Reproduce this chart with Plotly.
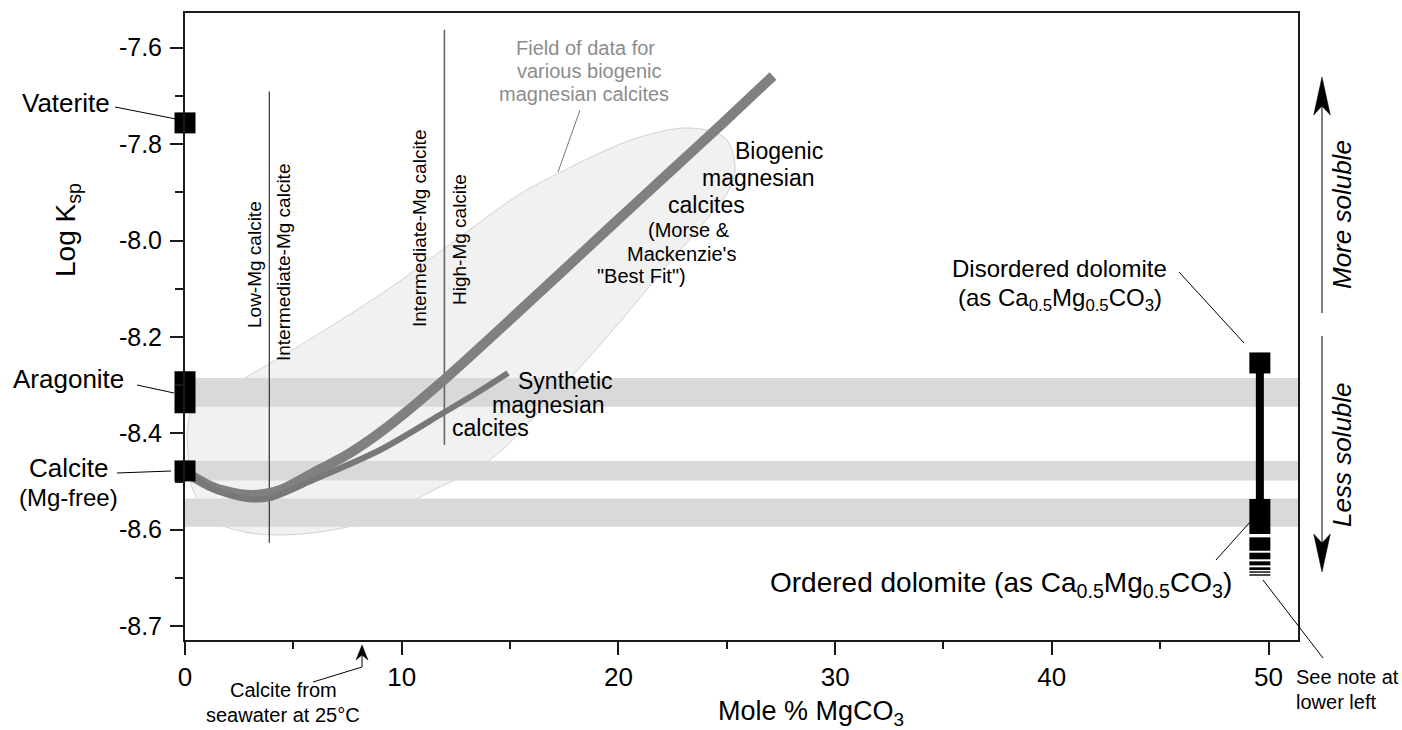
import plotly.graph_objects as go

# ---------------- data ----------------
x_tick_vals = [0, 10, 20, 30, 40, 50]
x_tick_text = ["0", "10", "20", "30", "40", "50"]
x_minor_vals = [5, 15, 25, 35, 45]
y_tick_vals = [-7.6, -7.8, -8.0, -8.2, -8.4, -8.6, -8.8]
y_tick_text = ["-7.6", "-7.8", "-8.0", "-8.2", "-8.4", "-8.6", "-8.7"]
y_minor_vals = [-7.7, -7.9, -8.1, -8.3, -8.5, -8.7]
X_RANGE = [0, 51.36]
Y_RANGE = [-8.8288, -7.528]

# end-member minerals (mole % MgCO3, log Ksp)
vaterite = (0, -7.756)
aragonite = (0, -8.315)
calcite = (0, -8.478)

# grey horizontal bands (log Ksp top, bottom)
band_aragonite = (-8.285, -8.345)
band_calcite = (-8.4575, -8.498)
band_dolomite = (-8.535, -8.594)

# biogenic magnesian calcites (Morse & Mackenzie best fit)
bio_x = [0, 1.384, 3.0, 4.384, 5.907, 7.615, 9.276, 11.998, 16.382, 19.566, 22.52, 24.827, 27.134]
bio_y = [-8.480, -8.5135, -8.528, -8.5175, -8.4822, -8.4407, -8.389, -8.2874, -8.1069, -7.9741,
         -7.8517, -7.7562, -7.6587]

# synthetic magnesian calcites
syn_x = [0, 1.384, 2.861, 3.922, 5.907, 9.0, 11.907, 13.383, 14.906]
syn_y = [-8.480, -8.5176, -8.5363, -8.5342, -8.4968, -8.4346, -8.3579, -8.3185, -8.2749]

# field of data for biogenic magnesian calcites (outline)
field_x = [0.461, 3.0, 6.23, 9.322, 12.0, 15.459, 17.167, 19.151, 20.997, 23.304, 24.919, 25.381,
           25.15, 24.135, 22.381, 19.751, 16.844, 14.076, 11.307, 9.0, 6.23, 4.384, 2.769, 1.292,
           0.369, 0.138, 0.138, 0.461]
field_y = [-8.3413, -8.2791, -8.1919, -8.1027, -8.0156, -7.9035, -7.862, -7.8184, -7.7853, -7.7666,
           -7.7873, -7.8434, -7.8911, -7.9534, -8.0444, -8.1855, -8.3307, -8.4552, -8.5216, -8.5755,
           -8.6046, -8.6108, -8.6048, -8.5799, -8.5176, -8.445, -8.3828, -8.3413]

# class boundaries (mole % MgCO3, top, bottom of drawn line)
boundary_low = (3.89, -7.691, -8.627)
boundary_high = (11.97, -7.563, -8.424)

# dolomites
dolomite_x = 49.6
disordered_dolomite = -8.254
ordered_dolomite = -8.5363
ordered_blocks = [(-8.5363, -8.6089), (-8.6158, -8.6436), (-8.6477, -8.6614), (-8.6656, -8.6739),
                  (-8.6780, -8.6836), (-8.6863, -8.6892), (-8.6925, -8.6954)]

# ---------------- figure ----------------
FONT = "Liberation Sans, Arial, Helvetica, sans-serif"
W, H = 1402, 730
L, R, T, B = 185, 1298, 13, 640  # plot area in pixels


def px(xp):
    return (xp - L) / (R - L)


def py(yp):
    return (B - yp) / (B - T)


fig = go.Figure()

# field of data
fig.add_trace(go.Scatter(x=field_x, y=field_y, mode="lines", fill="toself",
                         fillcolor="#f1f1f1", line=dict(color="#d2d2d2", width=1, shape="spline", smoothing=1),
                         hoverinfo="skip"))

# bands
for top, bot in [band_aragonite, band_calcite, band_dolomite]:
    fig.add_trace(go.Scatter(x=[X_RANGE[0], X_RANGE[1], X_RANGE[1], X_RANGE[0], X_RANGE[0]],
                             y=[top, top, bot, bot, top], mode="lines", fill="toself",
                             fillcolor="#d9d9d9", line=dict(width=0, color="rgba(0,0,0,0)"),
                             hoverinfo="skip"))

# class boundaries
fig.add_trace(go.Scatter(x=[boundary_low[0]] * 2, y=[boundary_low[1], boundary_low[2]], mode="lines",
                         line=dict(color="#333333", width=1.2), hoverinfo="skip"))
fig.add_trace(go.Scatter(x=[boundary_high[0]] * 2, y=[boundary_high[1], boundary_high[2]], mode="lines",
                         line=dict(color="#666666", width=1.6), hoverinfo="skip"))

# curves
fig.add_trace(go.Scatter(x=bio_x, y=bio_y, mode="lines",
                         line=dict(color="#808080", width=10, shape="spline", smoothing=0.8), hoverinfo="skip"))
fig.add_trace(go.Scatter(x=syn_x, y=syn_y, mode="lines",
                         line=dict(color="#787878", width=6, shape="spline", smoothing=0.8), hoverinfo="skip"))

# dolomite bar and ordered blocks
fig.add_trace(go.Scatter(x=[dolomite_x, dolomite_x], y=[disordered_dolomite, ordered_dolomite], mode="lines",
                         line=dict(color="black", width=8), hoverinfo="skip"))
bx, by = [], []
for top, bot in ordered_blocks:
    bx += [dolomite_x, dolomite_x, None]
    by += [top, bot, None]
fig.add_trace(go.Scatter(x=bx, y=by, mode="lines", line=dict(color="black", width=21), hoverinfo="skip"))

# square markers
fig.add_trace(go.Scatter(x=[vaterite[0], calcite[0], dolomite_x], y=[vaterite[1], calcite[1], disordered_dolomite],
                         mode="markers", cliponaxis=False,
                         marker=dict(symbol="square", size=21, color="black", line=dict(width=0)),
                         hoverinfo="skip"))
fig.add_trace(go.Scatter(x=[aragonite[0]], y=[aragonite[1]], mode="markers", cliponaxis=False,
                         marker=dict(symbol="line-ns", size=30, color="black",
                                     line=dict(width=21, color="black")),
                         hoverinfo="skip"))

# ---------------- annotations ----------------
anns = []


def ann(text, xp, yp, size, color="black", xanchor="center", angle=0):
    anns.append(dict(text=text, x=px(xp), y=py(yp), xref="paper", yref="paper", showarrow=False,
                     font=dict(size=size, color=color, family=FONT), xanchor=xanchor,
                     yanchor="middle", textangle=angle, borderpad=0))


ann("Vaterite", 111, 103, 26, xanchor="right")
ann("Aragonite", 125, 379, 26, xanchor="right")
ann("Calcite", 68, 468, 26)
ann("(Mg-free)", 68, 497, 24)
ann("Log K<sub>sp</sub>", 68, 230, 28, angle=-90)
ann("Mole % MgCO<sub>3</sub>", 717, 713, 27, xanchor="left")

ann("Low-Mg calcite", 254, 265, 19, angle=-90)
ann("Intermediate-Mg calcite", 283, 263, 19, angle=-90)
ann("Intermediate-Mg calcite", 419, 229, 19, angle=-90)
ann("High-Mg calcite", 460, 240, 19, angle=-90)

ann("Field of data for", 585, 48, 20, color="#8c8c8c")
ann("various biogenic", 589, 71, 20, color="#8c8c8c")
ann("magnesian calcites", 584, 94, 20, color="#8c8c8c")

ann("Biogenic", 734, 151, 23, xanchor="left")
ann("magnesian", 701, 178, 23, xanchor="left")
ann("calcites", 667, 205, 23, xanchor="left")
ann("(Morse &amp;", 647, 230, 20, xanchor="left")
ann("Mackenzie's", 626, 254, 20, xanchor="left")
ann("\"Best Fit\")", 596, 276, 20, xanchor="left")

ann("Synthetic", 517, 381, 23, xanchor="left")
ann("magnesian", 491, 405, 23, xanchor="left")
ann("calcites", 451, 428, 23, xanchor="left")

ann("Disordered dolomite", 1168, 268, 24, xanchor="right")
ann("(as Ca<sub>0.5</sub>Mg<sub>0.5</sub>CO<sub>3</sub>)", 1163, 299, 24, xanchor="right")
ann("Ordered dolomite (as Ca<sub>0.5</sub>Mg<sub>0.5</sub>CO<sub>3</sub>)", 1233, 584, 28, xanchor="right")

ann("Calcite from", 283, 690, 20)
ann("seawater at 25°C", 283, 715, 20)
ann("See note at", 1295, 677, 20, xanchor="left")
ann("lower left", 1295, 702, 20, xanchor="left")

ann("<i>More soluble</i>", 1342, 215, 26, angle=-90)
ann("<i>Less soluble</i>", 1342, 455, 26, angle=-90)

# ---------------- leader lines and arrows (paper space) ----------------
shapes = []


def seg(x0, y0, x1, y1, color="black", w=1):
    shapes.append(dict(type="line", xref="paper", yref="paper", x0=px(x0), y0=py(y0), x1=px(x1), y1=py(y1),
                       line=dict(color=color, width=w), layer="above"))


def head(pts):
    p = "M " + " L ".join(f"{px(a):.5f},{py(b):.5f}" for a, b in pts) + " Z"
    shapes.append(dict(type="path", xref="paper", yref="paper", path=p, fillcolor="black",
                       line=dict(color="black", width=0.5), layer="above"))


seg(115, 107, 176, 119)              # vaterite
seg(137, 385, 174, 393)              # aragonite
seg(117, 473, 171, 471)              # calcite
seg(580, 110, 558, 172, color="#777777")  # field label
seg(1179, 272, 1244, 343)            # disordered dolomite
seg(1216, 560, 1250, 522)            # ordered dolomite
seg(1323, 658, 1263, 580)            # see note
seg(313, 682, 362, 667)              # seawater calcite
seg(362, 667, 362, 655)
head([(362, 645), (368, 660), (362, 655), (356, 660)])
seg(1322, 313, 1322, 100)            # more soluble
head([(1322, 77), (1330.3, 115), (1322, 106), (1313.7, 115)])
seg(1322, 336, 1322, 545)            # less soluble
head([(1322, 572), (1330.3, 534), (1322, 543), (1313.7, 534)])

AX = "#1a1a1a"
fig.update_layout(
    width=W, height=H, template="none", showlegend=False,
    margin=dict(l=L, r=W - R, t=T, b=H - B, pad=0, autoexpand=False),
    plot_bgcolor="white", paper_bgcolor="white",
    font=dict(family=FONT, color="black"),
    xaxis=dict(range=X_RANGE, showgrid=False, zeroline=False, showline=True, linecolor=AX, linewidth=2,
               mirror=True, ticks="outside", ticklen=13, tickwidth=1.5, tickcolor=AX,
               tickvals=x_tick_vals, ticktext=x_tick_text, tickfont=dict(size=26, family=FONT, color="black"),
               ticklabelstandoff=0, automargin=False,
               minor=dict(tickvals=x_minor_vals, ticks="outside", ticklen=7, tickwidth=1.5, tickcolor=AX,
                          showgrid=False)),
    yaxis=dict(range=Y_RANGE, showgrid=False, zeroline=False, showline=True, linecolor=AX, linewidth=2,
               mirror=True, ticks="outside", ticklen=13, tickwidth=1.5, tickcolor=AX,
               tickvals=y_tick_vals, ticktext=y_tick_text, tickfont=dict(size=25, family=FONT, color="black"),
               ticklabelstandoff=3, automargin=False,
               minor=dict(tickvals=y_minor_vals, ticks="outside", ticklen=8, tickwidth=1.5, tickcolor=AX,
                          showgrid=False)),
    annotations=anns, shapes=shapes,
)

fig.write_html("out.html", config=dict(displayModeBar=False),
               post_script="document.body.style.margin='0px';")
